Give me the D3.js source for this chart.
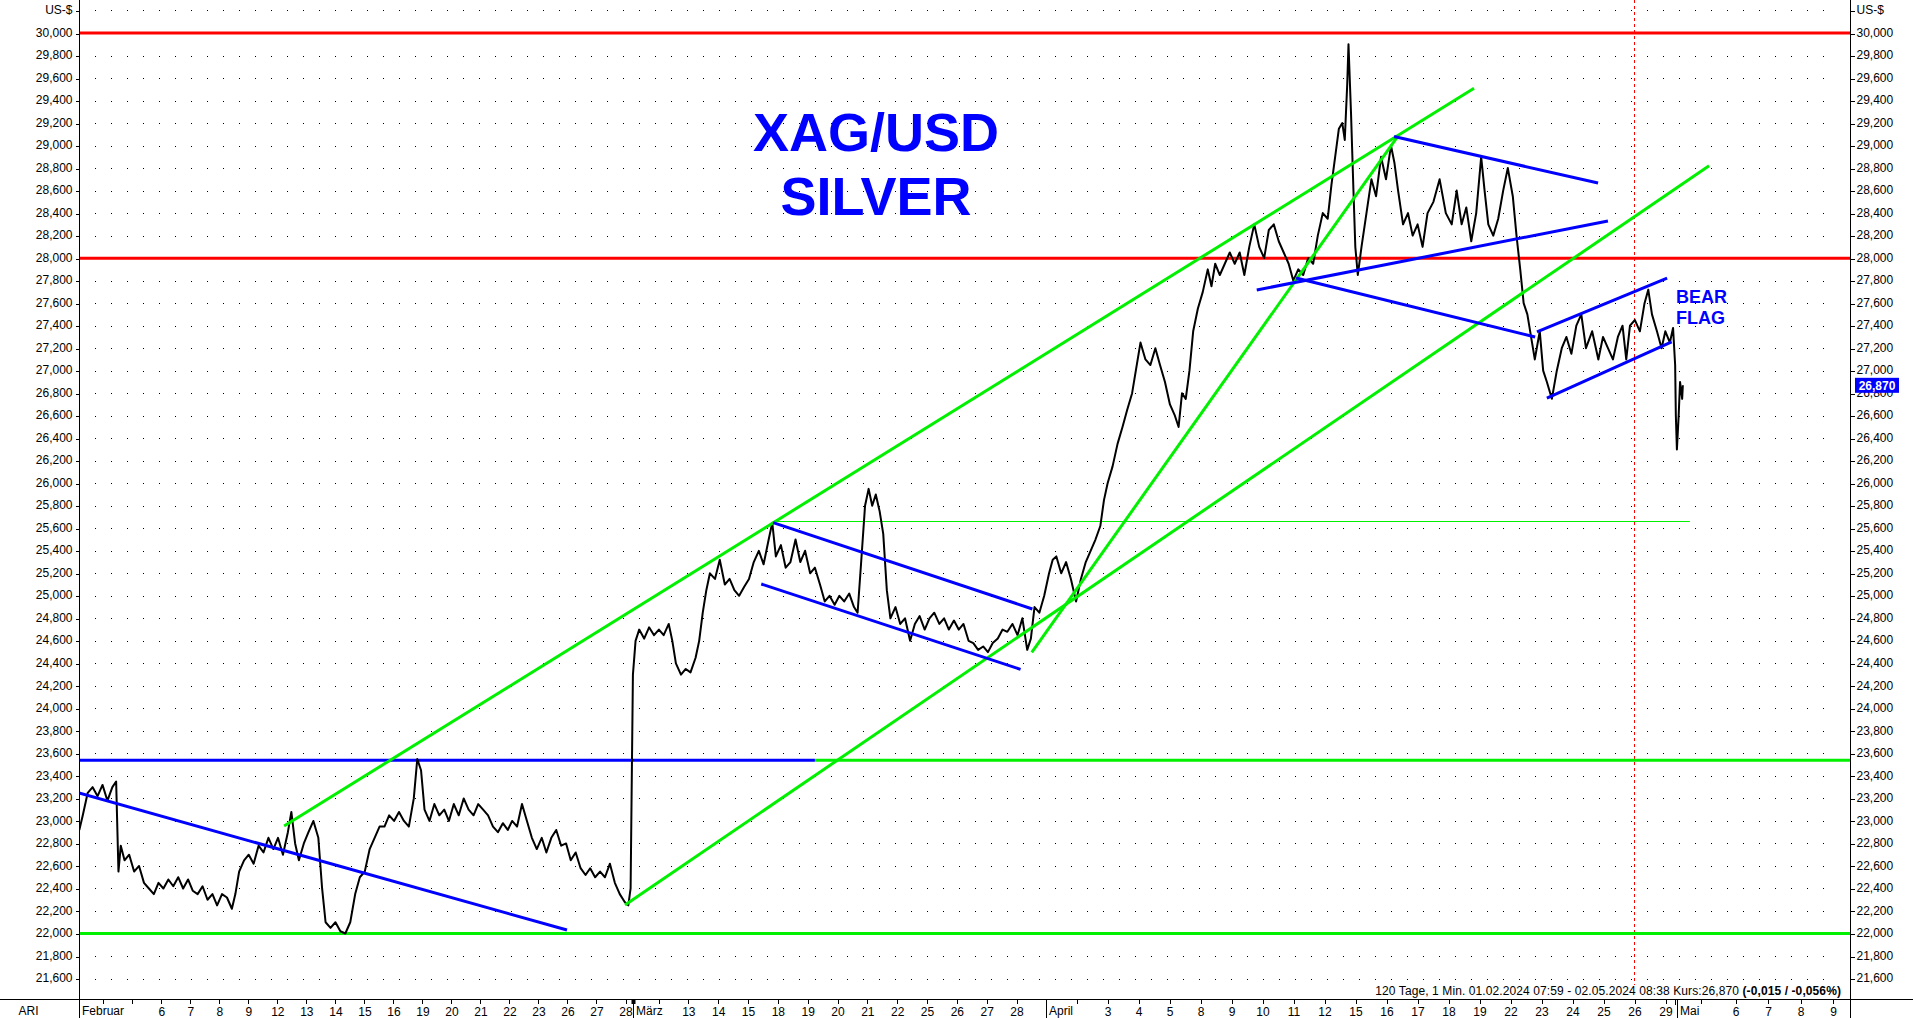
<!DOCTYPE html>
<html><head><meta charset="utf-8">
<script src="https://cdn.jsdelivr.net/npm/d3@7"></script>
<style>
html,body{margin:0;padding:0;background:#fff;}
svg{display:block;}
text{font-family:"Liberation Sans",Arial,sans-serif;}
</style></head><body>
<svg id="chart" width="1913" height="1018"></svg>
<script>
// ---------------- DATA ----------------
// price axis ticks (USD), last one carries the unit label
const yTickValues = d3.range(108, 152).map(d => d / 5);
// x axis: trading-day slots and their labels
const dayTicks = [
  [1,""],[2,""],[3,"6"],[4,"7"],[5,"8"],[6,"9"],[7,"12"],[8,"13"],[9,"14"],[10,"15"],[11,"16"],
  [12,"19"],[13,"20"],[14,"21"],[15,"22"],[16,"23"],[17,"26"],[18,"27"],[19,"28"],
  [20,""],[21,"13"],[22,"14"],[23,"15"],[24,"18"],[25,"19"],[26,"20"],[27,"21"],[28,"22"],
  [29,"25"],[30,"26"],[31,"27"],[32,"28"],
  [34,""],[35,"3"],[36,"4"],[37,"5"],[38,"8"],[39,"9"],[40,"10"],[41,"11"],[42,"12"],[43,"15"],
  [44,"16"],[45,"17"],[46,"18"],[47,"19"],[48,"22"],[49,"23"],[50,"24"],[51,"25"],[52,"26"],[53,"29"],
  [54,""],[55,"6"],[56,"7"],[57,"8"],[58,"9"]
];
const monthLabels = [["Februar",0.18],["März",19.23],["April",33],["Mai",53.34]];

// XAG/USD price path [slot, USD]
const priceFeb = [
 [0.19,22.92],[0.31,23.05],[0.48,23.25],[0.65,23.30],[0.82,23.22],[0.99,23.32],[1.16,23.18],[1.33,23.30],
 [1.46,23.35],[1.54,22.55],[1.62,22.78],[1.75,22.65],[1.91,22.70],[2.08,22.55],[2.25,22.60],[2.42,22.45],
 [2.59,22.40],[2.76,22.35],[2.92,22.45],[3.09,22.40],[3.26,22.48],[3.43,22.42],[3.60,22.50],[3.77,22.40],
 [3.94,22.48],[4.10,22.38],[4.27,22.35],[4.44,22.42],[4.61,22.30],[4.78,22.35],[4.94,22.25],[5.11,22.35],
 [5.28,22.32],[5.45,22.22],[5.57,22.35],[5.70,22.55],[5.87,22.65],[6.03,22.70],[6.20,22.62],[6.37,22.78],
 [6.54,22.72],[6.71,22.85],[6.88,22.75],[7.04,22.85],[7.21,22.70],[7.38,22.90],[7.50,23.08],[7.63,22.80],
 [7.76,22.65],[7.93,22.80],[8.09,22.90],[8.26,23.00],[8.43,22.85],[8.56,22.40],[8.68,22.10],[8.85,22.05],
 [9.02,22.10],[9.19,22.02],[9.36,22.00],[9.53,22.10],[9.70,22.35],[9.86,22.50],[10.03,22.55],[10.20,22.75],
 [10.37,22.85],[10.54,22.95],[10.71,22.95],[10.87,23.05],[11.04,23.00],[11.21,23.08],[11.38,23.00],[11.55,22.95],
 [11.72,23.20],[11.84,23.55],[11.97,23.45],[12.09,23.10],[12.26,23.00],[12.43,23.15],[12.60,23.05],[12.77,23.10],
 [12.93,23.00],[13.10,23.15],[13.27,23.05],[13.44,23.20],[13.61,23.10],[13.78,23.05],[13.94,23.15],[14.11,23.10],
 [14.28,23.05],[14.45,22.95],[14.62,22.90],[14.79,22.98],[14.96,22.92],[15.11,23.00],[15.28,22.95],[15.45,23.15],
 [15.62,23.00],[15.79,22.85],[15.96,22.75],[16.13,22.85],[16.29,22.72],[16.46,22.85],[16.63,22.92],[16.80,22.78],
 [16.97,22.80],[17.13,22.65],[17.30,22.72],[17.47,22.58],[17.64,22.52],[17.80,22.58],[17.97,22.50],[18.14,22.55],
 [18.31,22.50],[18.48,22.62],[18.65,22.45],[18.82,22.35],[18.99,22.28],[19.10,22.25],[19.17,22.40],[19.21,23.50],
 [19.24,24.30],[19.32,24.60],[19.43,24.70],[19.58,24.62],[19.73,24.72],[19.88,24.65]
];
const priceMar = [
 [20.03,24.70],[20.19,24.65],[20.36,24.75],[20.48,24.60],[20.60,24.40],[20.77,24.30],[20.93,24.35],[21.09,24.32],
 [21.26,24.45],[21.38,24.60],[21.50,24.85],[21.62,25.05],[21.74,25.20],[21.91,25.15],[22.07,25.32],[22.24,25.10],
 [22.40,25.15],[22.56,25.05],[22.72,25.00],[22.89,25.08],[23.05,25.15],[23.21,25.30],[23.38,25.40],[23.54,25.28],
 [23.71,25.50],[23.83,25.65],[23.95,25.35],[24.12,25.45],[24.28,25.25],[24.44,25.30],[24.61,25.50],[24.77,25.30],
 [24.93,25.40],[25.10,25.20],[25.26,25.25],[25.43,25.10],[25.59,24.95],[25.75,25.00],[25.92,24.92],[26.08,25.00],
 [26.24,24.95],[26.41,25.02],[26.57,24.90],[26.69,24.85],[26.81,25.30],[26.94,25.80],[27.06,25.95],[27.18,25.80],
 [27.30,25.90],[27.43,25.75],[27.55,25.55],[27.67,25.05],[27.79,24.80],[27.96,24.90],[28.12,24.75],[28.28,24.80],
 [28.45,24.60],[28.61,24.75],[28.77,24.82],[28.94,24.70],[29.10,24.80],[29.26,24.85],[29.43,24.75],[29.59,24.80],
 [29.75,24.70],[29.92,24.78],[30.08,24.70],[30.24,24.75],[30.41,24.60],[30.57,24.58],[30.73,24.52],[30.90,24.55],
 [31.06,24.50],[31.22,24.58],[31.39,24.62],[31.55,24.70],[31.71,24.68],[31.88,24.75],[32.05,24.65],[32.21,24.80],
 [32.37,24.52],[32.49,24.62],[32.61,24.90],[32.77,24.85],[32.93,25.00],[33.09,25.20],[33.21,25.32],[33.33,25.35],
 [33.49,25.20],[33.65,25.30],[33.81,25.15],[33.98,24.95],[34.14,25.15],[34.30,25.30],[34.46,25.40],[34.62,25.50],
 [34.78,25.62]
];
const priceApr = [
 [34.90,25.85],[35.02,26.00],[35.18,26.15],[35.34,26.35],[35.50,26.50],[35.65,26.65],[35.81,26.80],[35.93,27.00],
 [36.08,27.25],[36.24,27.10],[36.40,27.05],[36.56,27.20],[36.71,27.05],[36.87,26.90],[37.03,26.70],[37.19,26.60],
 [37.31,26.50],[37.42,26.80],[37.54,26.75],[37.66,27.00],[37.78,27.35],[37.93,27.55],[38.09,27.70],[38.25,27.90],
 [38.37,27.75],[38.49,27.95],[38.64,27.85],[38.80,27.95],[38.96,28.05],[39.12,27.95],[39.28,28.05],[39.43,27.85],
 [39.59,28.10],[39.75,28.30],[39.91,28.10],[40.07,28.00],[40.22,28.25],[40.38,28.30],[40.54,28.15],[40.70,28.05],
 [40.86,27.95],[41.01,27.80],[41.17,27.90],[41.33,27.85],[41.49,28.00],[41.65,27.95],[41.80,28.20],[41.96,28.40],
 [42.12,28.35],[42.24,28.65],[42.36,28.90],[42.48,29.15],[42.59,29.20],[42.67,29.05],[42.75,29.55],[42.79,29.90],
 [42.87,29.30],[42.95,28.60],[43.01,28.10],[43.09,27.85],[43.21,28.10],[43.37,28.40],[43.53,28.70],[43.68,28.55],
 [43.84,28.90],[44.00,28.70],[44.16,29.00],[44.27,28.85],[44.39,28.60],[44.55,28.30],[44.71,28.40],[44.86,28.20],
 [45.02,28.30],[45.18,28.10],[45.34,28.40],[45.53,28.50],[45.73,28.70],[45.93,28.40],[46.12,28.30],[46.28,28.60],
 [46.44,28.30],[46.59,28.45],[46.75,28.15],[46.91,28.40],[47.07,28.90],[47.18,28.60],[47.30,28.30],[47.46,28.20],
 [47.62,28.35],[47.78,28.60],[47.93,28.80],[48.09,28.55],[48.21,28.20],[48.33,27.90],[48.44,27.60],[48.56,27.50],
 [48.68,27.30],[48.80,27.10],[48.96,27.35],[49.07,27.00],[49.19,26.90],[49.35,26.75],[49.51,27.00],[49.67,27.20],
 [49.82,27.30],[49.98,27.15],[50.14,27.40],[50.30,27.50],[50.45,27.20],[50.65,27.35],[50.85,27.10],[51.00,27.30],
 [51.16,27.20],[51.32,27.10],[51.48,27.30],[51.63,27.40],[51.75,27.10],[51.87,27.40],[52.03,27.45],[52.19,27.35],
 [52.34,27.60],[52.46,27.72],[52.58,27.50],[52.74,27.35],[52.89,27.20],[53.01,27.35],[53.14,27.25],[53.23,27.38],
 [53.29,27.05],[53.31,26.60],[53.34,26.30],[53.39,26.60],[53.43,26.90],[53.49,26.75],[53.51,26.87]
];
const lastPrice = 26.87;

// drawn trend lines [slot, USD] -> [slot, USD]
const greenTrendLines = [
 [[7.25,22.955],[46.84,29.51]],
 [[19.0,22.253],[54.26,28.82]],
 [[32.52,24.498],[44.35,29.07]]
];
const blueTrendLines = [
 [[0.18,23.248],[17.0,22.031]],
 [[23.86,25.650],[32.54,24.883]],
 [[23.46,25.105],[32.15,24.347]],
 [[44.26,29.080],[50.84,28.667]],
 [[39.83,27.717],[51.16,28.330]],
 [[41.10,27.823],[48.81,27.299]],
 [[48.87,27.344],[53.06,27.823]],
 [[49.19,26.757],[53.19,27.257]]
];
// horizontal levels
const redLevels = [30.0, 28.0];
const supportLevel = 22.0;
const breakLevel = 23.54;
const breakSplitSlot = 25.26;
const thinLevel = [25.665, 23.86, 53.71];
const markerSlot = 52;

const titleLines = ["XAG/USD", "SILVER"];
const flagLines = ["BEAR", "FLAG"];
const infoRegular = "120 Tage, 1 Min. 01.02.2024 07:59 - 02.05.2024 08:38  Kurs:26,870 ";
const infoBold = "(-0,015 / -0,056%)";

// ---------------- CHART ----------------
const W = 1913, H = 1018;
const left = 79, right = 1850, bottom = 999;
const RED = "#ff0000", GREEN = "#00f000", BLUE = "#0000ff";

const x = d3.scaleLinear()
  .domain([0, 3, 19, 20, 32, 35, 53, 55, 58])
  .range([73.8, 160.8, 625, 658, 1016, 1107, 1665, 1735, 1832.5]);
const y = d3.scaleLinear().domain([22, 30]).range([933.5, 33]);

const svg = d3.select("#chart");
svg.append("defs").append("clipPath").attr("id", "plot")
  .append("rect").attr("x", left).attr("y", 0).attr("width", right - left).attr("height", bottom);

// dotted grid rows
svg.append("g").selectAll("line").data(yTickValues).join("line")
  .attr("x1", 95).attr("x2", 1836)
  .attr("y1", d => Math.round(y(d)) + 0.5).attr("y2", d => Math.round(y(d)) + 0.5)
  .attr("stroke", "#000").attr("stroke-width", 1).attr("stroke-dasharray", "1 15");

const plot = svg.append("g").attr("clip-path", "url(#plot)");

// red dashed marker
plot.append("line")
  .attr("x1", Math.round(x(markerSlot)) + 0.5).attr("x2", Math.round(x(markerSlot)) + 0.5)
  .attr("y1", 0).attr("y2", 985)
  .attr("stroke", RED).attr("stroke-width", 1).attr("stroke-dasharray", "3 3");

// horizontal levels
redLevels.forEach(v => plot.append("line")
  .attr("x1", left).attr("x2", right).attr("y1", y(v)).attr("y2", y(v))
  .attr("stroke", RED).attr("stroke-width", 3));
plot.append("line").attr("x1", left).attr("x2", right)
  .attr("y1", y(supportLevel)).attr("y2", y(supportLevel))
  .attr("stroke", GREEN).attr("stroke-width", 3);
plot.append("line").attr("x1", left).attr("x2", x(breakSplitSlot))
  .attr("y1", y(breakLevel)).attr("y2", y(breakLevel))
  .attr("stroke", BLUE).attr("stroke-width", 3);
plot.append("line").attr("x1", x(breakSplitSlot)).attr("x2", right)
  .attr("y1", y(breakLevel)).attr("y2", y(breakLevel))
  .attr("stroke", GREEN).attr("stroke-width", 3);
plot.append("line").attr("x1", x(thinLevel[1])).attr("x2", x(thinLevel[2]))
  .attr("y1", Math.round(y(thinLevel[0])) + 0.5).attr("y2", Math.round(y(thinLevel[0])) + 0.5)
  .attr("stroke", GREEN).attr("stroke-width", 1);

// price
const allPrice = priceFeb.concat(priceMar, priceApr);
plot.append("path").datum(allPrice)
  .attr("d", d3.line().x(d => x(d[0])).y(d => y(d[1])))
  .attr("fill", "none").attr("stroke", "#000").attr("stroke-width", 2)
  .attr("stroke-linejoin", "round");

// trend lines
function trend(list, col) {
  plot.append("g").selectAll("line").data(list).join("line")
    .attr("x1", d => x(d[0][0])).attr("y1", d => y(d[0][1]))
    .attr("x2", d => x(d[1][0])).attr("y2", d => y(d[1][1]))
    .attr("stroke", col).attr("stroke-width", 3);
}
trend(greenTrendLines, GREEN);
trend(blueTrendLines, BLUE);

// title
svg.append("g").selectAll("text").data(titleLines).join("text")
  .attr("x", 876).attr("y", (d, i) => 150.5 + i * 64.5)
  .attr("text-anchor", "middle").attr("font-weight", "bold")
  .attr("font-size", 54).attr("fill", BLUE).text(d => d);
svg.append("g").selectAll("text").data(flagLines).join("text")
  .attr("x", 1676).attr("y", (d, i) => 303 + i * 21)
  .attr("font-weight", "bold").attr("font-size", 18).attr("fill", BLUE).text(d => d);

// axes frame
const frame = svg.append("g").attr("stroke", "#000").attr("shape-rendering", "crispEdges");
frame.append("line").attr("x1", left + 0.5).attr("x2", left + 0.5).attr("y1", 0).attr("y2", H);
frame.append("line").attr("x1", right + 0.5).attr("x2", right + 0.5).attr("y1", 0).attr("y2", H);
frame.append("line").attr("x1", 0).attr("x2", W).attr("y1", bottom + 0.5).attr("y2", bottom + 0.5);

// price axes
const fmt = v => v > 30.1 ? "US-$" : d3.format(".3f")(v).replace(".", ",");
function styleAxis(g) {
  g.select(".domain").remove();
  g.attr("font-family", null).attr("font-size", null);
  g.selectAll("text").attr("font-size", 12).attr("fill", "#000").attr("dy", "0.22em");
  g.selectAll("line").attr("stroke", "#000").attr("shape-rendering", "crispEdges");
}
svg.append("g").attr("transform", `translate(${left + 0.5},0.5)`)
  .call(d3.axisLeft(y).tickValues(yTickValues).tickSize(4).tickPadding(3).tickFormat(fmt))
  .call(styleAxis);
svg.append("g").attr("transform", `translate(${right + 0.5},0.5)`)
  .call(d3.axisRight(y).tickValues(yTickValues).tickSize(4).tickPadding(2).tickFormat(fmt))
  .call(styleAxis);

// last price box
const py = y(lastPrice);
svg.append("rect").attr("x", 1855).attr("y", py - 7.5).attr("width", 44).attr("height", 15).attr("fill", BLUE);
svg.append("text").attr("x", 1877).attr("y", py + 4.3).attr("text-anchor", "middle")
  .attr("font-weight", "bold").attr("font-size", 12).attr("fill", "#fff").text(d3.format(".3f")(lastPrice).replace(".", ","));

// time axis
const xa = svg.append("g").attr("transform", `translate(0.5,${bottom + 0.5})`)
  .call(d3.axisBottom(x).tickValues(dayTicks.map(d => d[0])).tickSize(4).tickPadding(3.5)
    .tickFormat((d, i) => dayTicks[i][1]));
xa.select(".domain").remove();
xa.attr("font-family", null).attr("font-size", null);
xa.selectAll("text").attr("font-size", 12).attr("fill", "#000");
xa.selectAll("line").attr("stroke", "#000").attr("shape-rendering", "crispEdges");

monthLabels.forEach(([name, s], i) => {
  const mx = Math.round(x(s));
  if (i > 0) {
    svg.append("line").attr("x1", mx + 0.5).attr("x2", mx + 0.5).attr("y1", bottom).attr("y2", H)
      .attr("stroke", "#000").attr("shape-rendering", "crispEdges");
  }
  svg.append("text").attr("x", i === 0 ? left + 3 : mx + 3).attr("y", 1015)
    .attr("font-size", 12).text(name);
});
svg.append("rect").attr("x", Math.round(x(19.23)) - 1.5).attr("y", bottom + 1).attr("width", 4).attr("height", 4).attr("fill", "#000");
svg.append("line").attr("x1", Math.round(x(53.34)) - 1.5).attr("x2", Math.round(x(53.34)) - 1.5)
  .attr("y1", bottom).attr("y2", bottom + 6).attr("stroke", "#000").attr("shape-rendering", "crispEdges");

svg.append("text").attr("x", 28.5).attr("y", 1015).attr("text-anchor", "middle")
  .attr("font-size", 12).text("ARI");

// info line
const info = svg.append("text").attr("x", 1841).attr("y", 994.5).attr("text-anchor", "end")
  .attr("font-size", 12).attr("letter-spacing", 0.1);
info.append("tspan").text(infoRegular);
info.append("tspan").attr("font-weight", "bold").text(infoBold);
</script>
</body></html>
